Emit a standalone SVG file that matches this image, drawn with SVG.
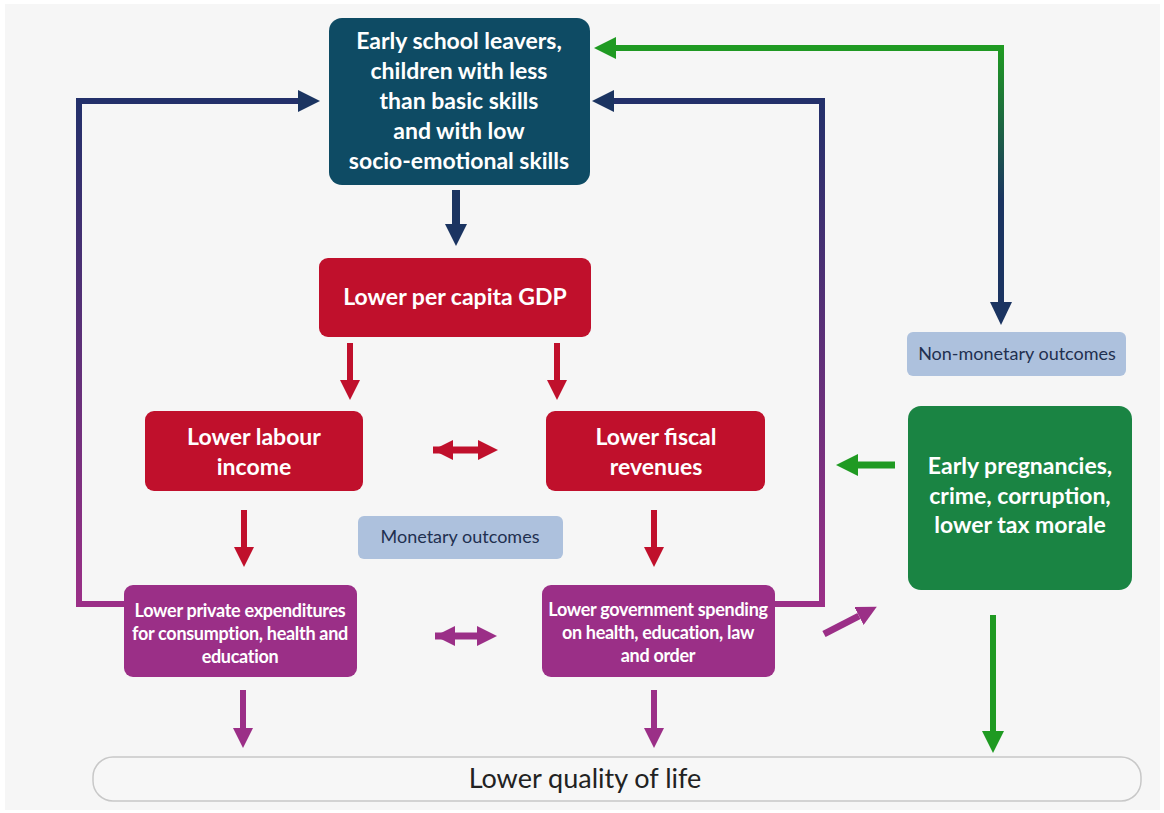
<svg xmlns="http://www.w3.org/2000/svg" width="1164" height="813" viewBox="0 0 1164 813">
<style>
.t{font-family:Lato,"Open Sans","Liberation Sans",sans-serif;fill:#fff;font-weight:700;text-anchor:middle}
.big{font-size:23px}
.sm{font-size:18px;letter-spacing:-0.3px}
.lab{font-family:Lato,"Open Sans","Liberation Sans",sans-serif;fill:#1f3050;font-size:18px;text-anchor:middle}
.sh{fill:none;stroke-linejoin:miter}
</style>
<defs>
<linearGradient id="gL" gradientUnits="userSpaceOnUse" x1="0" y1="604" x2="0" y2="101">
<stop offset="0" stop-color="#9b2f87"/><stop offset="1" stop-color="#23306a"/>
</linearGradient>
<linearGradient id="gG" gradientUnits="userSpaceOnUse" x1="0" y1="48" x2="0" y2="200">
<stop offset="0" stop-color="#1f9a22"/><stop offset="1" stop-color="#1b3461"/>
</linearGradient>
<marker id="hN" viewBox="0 0 10 10" refX="0" refY="5" markerWidth="22" markerHeight="22" markerUnits="userSpaceOnUse" orient="auto"><path d="M0,0 L10,5 L0,10 z" fill="#1b3461"/></marker>
<marker id="hG" viewBox="0 0 10 10" refX="0" refY="5" markerWidth="22" markerHeight="22" markerUnits="userSpaceOnUse" orient="auto"><path d="M0,0 L10,5 L0,10 z" fill="#1f9a22"/></marker>
<marker id="hR" viewBox="0 0 10 10" refX="0" refY="5" markerWidth="20" markerHeight="20" markerUnits="userSpaceOnUse" orient="auto"><path d="M0,0 L10,5 L0,10 z" fill="#c0102c"/></marker>
<marker id="hRs" viewBox="0 0 10 10" refX="10" refY="5" markerWidth="20" markerHeight="20" markerUnits="userSpaceOnUse" orient="auto-start-reverse"><path d="M0,0 L10,5 L0,10 z" fill="#c0102c"/></marker>
<marker id="hP" viewBox="0 0 10 10" refX="0" refY="5" markerWidth="20" markerHeight="20" markerUnits="userSpaceOnUse" orient="auto"><path d="M0,0 L10,5 L0,10 z" fill="#9b2f87"/></marker>
<marker id="hPs" viewBox="0 0 10 10" refX="10" refY="5" markerWidth="20" markerHeight="20" markerUnits="userSpaceOnUse" orient="auto-start-reverse"><path d="M0,0 L10,5 L0,10 z" fill="#9b2f87"/></marker>
</defs>
<rect x="0" y="0" width="1164" height="813" fill="#ffffff"/>
<rect x="5" y="4" width="1155" height="806" fill="#f6f6f6"/>

<g id="connectors">
<path class="sh" d="M124,604 L79,604 L79,101 L298,101" stroke="url(#gL)" stroke-width="6" marker-end="url(#hN)"/>
<path class="sh" d="M775,604 L822,604 L822,101 L614,101" stroke="url(#gL)" stroke-width="6" marker-end="url(#hN)"/>
<path class="sh" d="M616,48 L1001,48 L1001,304" stroke="url(#gG)" stroke-width="6"/>
<polygon points="594,48 616,37 616,59" fill="#1f9a22"/>
<polygon points="990,302 1012,302 1001,325" fill="#1b3461"/>
<line x1="456" y1="190" x2="456" y2="224" stroke="#1b3461" stroke-width="8" marker-end="url(#hN)"/>
<line x1="350" y1="343" x2="350" y2="380" stroke="#c0102c" stroke-width="6" marker-end="url(#hR)"/>
<line x1="557" y1="343" x2="557" y2="380" stroke="#c0102c" stroke-width="6" marker-end="url(#hR)"/>
<line x1="433" y1="450" x2="478" y2="450" stroke="#c0102c" stroke-width="7" marker-start="url(#hRs)" marker-end="url(#hR)"/>
<line x1="244" y1="510" x2="244" y2="547" stroke="#c0102c" stroke-width="6" marker-end="url(#hR)"/>
<line x1="654" y1="510" x2="654" y2="547" stroke="#c0102c" stroke-width="6" marker-end="url(#hR)"/>
<line x1="435" y1="636" x2="477" y2="636" stroke="#9b2f87" stroke-width="7" marker-start="url(#hPs)" marker-end="url(#hP)"/>
<line x1="243" y1="690" x2="243" y2="728" stroke="#9b2f87" stroke-width="6" marker-end="url(#hP)"/>
<line x1="654" y1="690" x2="654" y2="728" stroke="#9b2f87" stroke-width="6" marker-end="url(#hP)"/>
<line x1="824" y1="634" x2="859" y2="616" stroke="#9b2f87" stroke-width="7" marker-end="url(#hP)"/>
<line x1="895" y1="465" x2="858" y2="465" stroke="#1f9a22" stroke-width="7" marker-end="url(#hG)"/>
<line x1="993" y1="615" x2="993" y2="731" stroke="#1f9a22" stroke-width="6" marker-end="url(#hG)"/>
</g>

<g id="n-top">
<rect x="329" y="18" width="261" height="167" rx="13" fill="#0e4b64"/>
<text class="t big" x="459" y="49">Early school leavers,</text>
<text class="t big" x="459" y="79">children with less</text>
<text class="t big" x="459" y="109">than basic skills</text>
<text class="t big" x="459" y="139">and with low</text>
<text class="t big" x="459" y="169">socio-emotional skills</text>
</g>

<g id="n-gdp">
<rect x="319" y="258" width="272" height="79" rx="9" fill="#c0102c"/>
<text class="t big" x="455" y="305">Lower per capita GDP</text>
</g>

<g id="n-labour">
<rect x="145" y="411" width="218" height="80" rx="9" fill="#c0102c"/>
<text class="t big" x="254" y="445">Lower labour</text>
<text class="t big" x="254" y="475">income</text>
</g>

<g id="n-fiscal">
<rect x="546" y="411" width="219" height="80" rx="9" fill="#c0102c"/>
<text class="t big" x="656" y="445">Lower fiscal</text>
<text class="t big" x="656" y="475">revenues</text>
</g>

<g id="n-monetary">
<rect x="358" y="516" width="205" height="43" rx="6" fill="#adc1dd"/>
<text class="lab" x="460" y="543">Monetary outcomes</text>
</g>

<g id="n-private">
<rect x="124" y="585" width="233" height="92" rx="9" fill="#9b2f87"/>
<text class="t sm" x="240" y="617">Lower private expenditures</text>
<text class="t sm" x="240" y="640">for consumption, health and</text>
<text class="t sm" x="240" y="663">education</text>
</g>

<g id="n-gov">
<rect x="542" y="585" width="233" height="92" rx="9" fill="#9b2f87"/>
<text class="t sm" x="658" y="616">Lower government spending</text>
<text class="t sm" x="658" y="639">on health, education, law</text>
<text class="t sm" x="658" y="662">and order</text>
</g>

<g id="n-nonmonetary">
<rect x="907" y="332" width="219" height="44" rx="6" fill="#adc1dd"/>
<text class="lab" x="1017" y="360">Non-monetary outcomes</text>
</g>

<g id="n-green">
<rect x="908" y="406" width="224" height="184" rx="13" fill="#1a8443"/>
<text class="t big" x="1020" y="474">Early pregnancies,</text>
<text class="t big" x="1020" y="504">crime, corruption,</text>
<text class="t big" x="1020" y="533">lower tax morale</text>
</g>

<g id="n-quality">
<rect x="93" y="757" width="1048" height="44" rx="20" fill="#f7f7f7" stroke="#c8c8c8" stroke-width="1.5"/>
<text x="585" y="788" font-family="Lato,'Open Sans','Liberation Sans',sans-serif" font-size="27" fill="#222" text-anchor="middle">Lower quality of life</text>
</g>
</svg>
